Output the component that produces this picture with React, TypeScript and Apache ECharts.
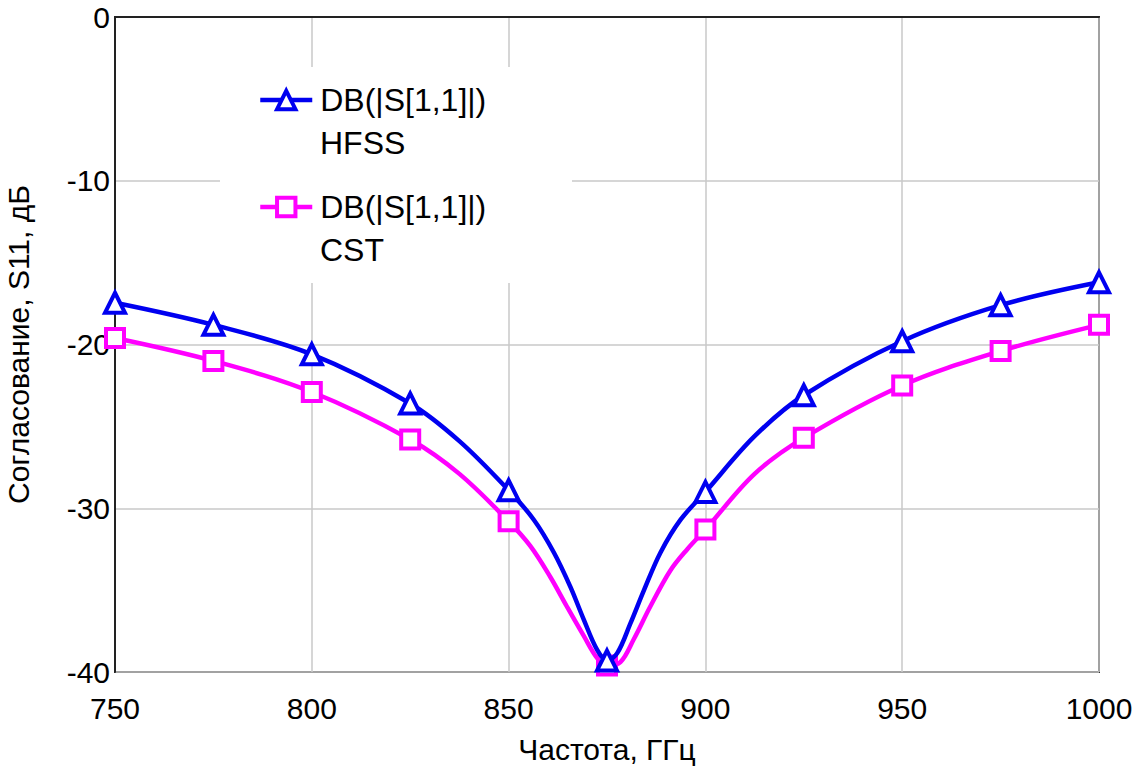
import React, { useEffect, useRef } from "react";
import * as echarts from "echarts";

const hfssFreq = [750, 775, 800, 825, 837.5, 850, 856.4, 861.5, 865.7, 869.1, 872.5, 875, 877.6, 881, 884.4, 888.6, 893.7, 900, 912.5, 925, 950, 975, 1000];
const hfssDb = [-17.45, -18.8, -20.6, -23.6, -25.9, -28.9, -30.7, -32.7, -34.8, -36.8, -38.65, -39.3, -38.85, -37.0, -35.0, -32.7, -30.7, -29.0, -25.6, -23.1, -19.8, -17.6, -16.2];

const cstFreq = [750, 775, 800, 825, 837.5, 850, 855.5, 860.6, 864.8, 869.1, 872.5, 875, 878.4, 881.8, 886, 891.1, 895.4, 900, 912.5, 925, 950, 975, 1000];
const cstDb = [-19.6, -21.0, -22.9, -25.8, -27.9, -30.8, -32.3, -34.2, -36.0, -37.8, -39.15, -39.6, -39.4, -38.0, -36.0, -33.8, -32.5, -31.3, -27.9, -25.7, -22.5, -20.4, -18.8];

const markerFreqs = [750, 775, 800, 825, 850, 875, 900, 925, 950, 975, 1000];

const xTicks = [750, 800, 850, 900, 950, 1000];
const yTicks = [-40, -30, -20, -10, 0];

const seriesNames = ["HFSS", "CST"];
const legendTitle = "DB(|S[1,1]|)";

const FONT = "'Liberation Sans', Arial, sans-serif";
const BLUE = "#0000f0";
const MAGENTA = "#ff00ff";

function buildData(freqs: number[], vals: number[]) {
  return freqs.map((f, i) =>
    markerFreqs.includes(f) ? { value: [f, vals[i]] } : { value: [f, vals[i]], symbol: "none" }
  );
}

export default function App() {
  const ref = useRef<HTMLDivElement>(null);
  useEffect(() => {
    if (!ref.current) return;
    const chart = echarts.init(ref.current, undefined, { renderer: "svg" });
    chart.setOption({
      animation: false,
      backgroundColor: "#fff",
      grid: {
        left: 115, right: 43, top: 17, bottom: 94,
        outerBoundsMode: "none", containLabel: false,
        show: true, borderColor: "#333", borderWidth: 2, backgroundColor: "transparent",
      },
      graphic: [
        { type: "rect", shape: { x: 220, y: 67, width: 352, height: 216 }, style: { fill: "#fff" }, z: 1, silent: true },
        { type: "text", x: 320, y: 143, z: 5, style: { text: seriesNames[0], font: `32px ${FONT}`, fill: "#000", verticalAlign: "middle" } },
        { type: "text", x: 320, y: 250, z: 5, style: { text: seriesNames[1], font: `32px ${FONT}`, fill: "#000", verticalAlign: "middle" } },
      ],
      legend: {
        orient: "vertical",
        left: 258,
        top: 80,
        padding: 0,
        itemWidth: 52,
        itemHeight: 23,
        itemGap: 67,
        selectedMode: false,
        formatter: () => legendTitle,
        lineStyle: { width: 4.5 },
        itemStyle: { borderWidth: 4 },
        textStyle: { fontSize: 32, lineHeight: 40, padding: [0, 0, 0, 3], color: "#000", fontFamily: FONT },
        data: seriesNames,
      },
      xAxis: {
        type: "value",
        min: xTicks[0],
        max: xTicks[xTicks.length - 1],
        interval: 50,
        name: "Частота, ГГц",
        nameLocation: "middle",
        nameGap: 62,
        nameTextStyle: { fontSize: 30, color: "#000", fontFamily: FONT },
        axisLine: { lineStyle: { color: "#222", width: 2 } },
        axisTick: { show: false },
        axisLabel: { fontSize: 30, color: "#000", fontFamily: FONT, margin: 21, formatter: (v: number) => String(v) },
        splitLine: { show: true, lineStyle: { color: "#c8c8c8", width: 1.5 } },
      },
      yAxis: {
        type: "value",
        min: yTicks[0],
        max: yTicks[yTicks.length - 1],
        interval: 10,
        name: "Согласование, S11, дБ",
        nameLocation: "middle",
        nameGap: 82,
        nameTextStyle: { fontSize: 30, color: "#000", fontFamily: FONT },
        axisLine: { lineStyle: { color: "#222", width: 2 } },
        axisTick: { show: false },
        axisLabel: { fontSize: 30, color: "#000", fontFamily: FONT, margin: 5, formatter: (v: number) => String(v) },
        splitLine: { show: true, lineStyle: { color: "#c8c8c8", width: 1.5 } },
      },
      series: [
        {
          name: seriesNames[0],
          type: "line",
          smooth: 0.35,
          data: buildData(hfssFreq, hfssDb),
          symbol: "triangle",
          symbolSize: 20,
          lineStyle: { color: BLUE, width: 4.5 },
          itemStyle: { color: "#fff", borderColor: BLUE, borderWidth: 4 },
          emphasis: { disabled: true },
          z: 3,
        },
        {
          name: seriesNames[1],
          type: "line",
          smooth: 0.35,
          data: buildData(cstFreq, cstDb),
          symbol: "rect",
          symbolSize: 18,
          lineStyle: { color: MAGENTA, width: 4.5 },
          itemStyle: { color: "#fff", borderColor: MAGENTA, borderWidth: 4 },
          emphasis: { disabled: true },
          z: 2,
        },
      ],
    });
    return () => chart.dispose();
  }, []);
  return <div ref={ref} style={{ width: 1142, height: 766, position: "absolute", left: 0, top: 0 }} />;
}
